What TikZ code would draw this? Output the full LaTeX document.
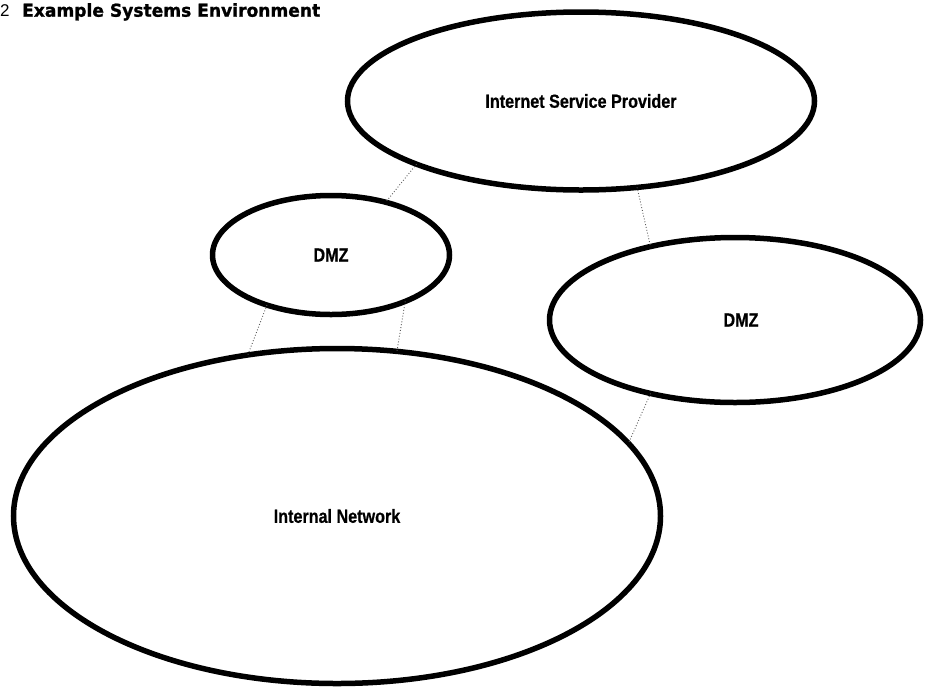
\documentclass[tikz,border=0pt]{standalone}
\usepackage{fontspec}
\usetikzlibrary{shapes.geometric}
\setmainfont{Liberation Sans}
\newfontfamily\labelfont[FakeStretch=0.85,FakeBold=0.6]{Liberation Sans}
\newfontfamily\headfont[FakeBold=1.2]{DejaVu Sans}

\tikzset{
  zone/.style={ellipse, draw=black, line width=5.5pt, inner sep=0pt, outer sep=0pt,
               font=\labelfont\bfseries\fontsize{19}{21}\selectfont},
  link/.style={draw=black!65, line width=0.9pt, dotted},
  heading/.style={inner sep=0pt, anchor=base west},
}

\begin{document}
\begin{tikzpicture}[x=1pt, y=-1pt]
  \useasboundingbox (0,0) rectangle (925,691);

  % heading
  \node[heading, font=\fontsize{17}{19}\selectfont] (num) at (0,16.7) {2};
  \node[heading] (head) at (22,16.7)
    {\resizebox{298pt}{13.5pt}{\headfont\bfseries Example Systems Environment}};

  % network zones
  \node[zone, minimum width=467pt, minimum height=178pt] (isp)  at (581,101)
    {\raisebox{-4pt}{Internet Service Provider}};
  \node[zone, minimum width=237pt, minimum height=119pt] (dmzl) at (331,255) {DMZ};
  \node[zone, minimum width=371pt, minimum height=165pt] (dmzr) at (735,320)
    {\hspace{12pt}DMZ};
  \node[zone, minimum width=647pt, minimum height=335pt] (lan)  at (337,516) {Internal Network};

  % links between zones
  \draw[link] (isp.201)  -- (dmzl.44);
  \draw[link] (dmzl.218) -- (lan.119);
  \draw[link] (dmzl.328) -- (lan.70);
  \draw[link] (isp.303)  -- (dmzr.139);
  \draw[link] (dmzr.221) -- (lan.14);
\end{tikzpicture}
\end{document}
